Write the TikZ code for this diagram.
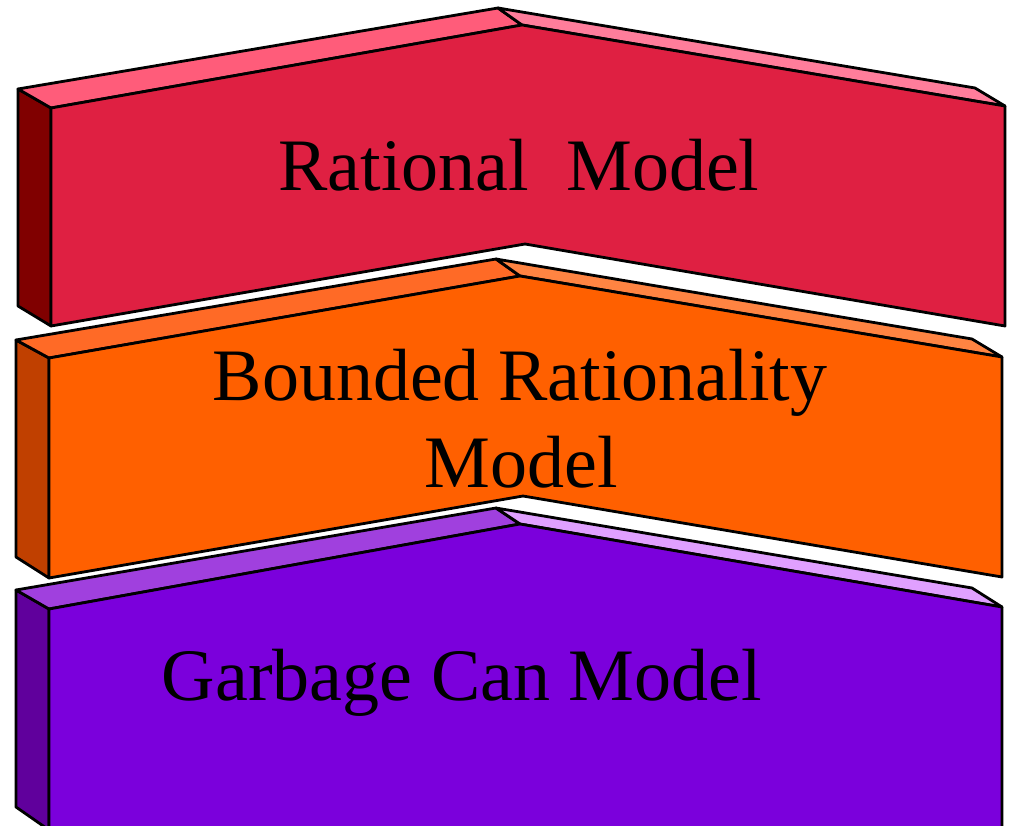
\documentclass[tikz,border=0pt]{standalone}
\usepackage{fontspec}
\setmainfont{Liberation Serif}
\definecolor{rfront}{HTML}{DF2042}
\definecolor{rtopl}{HTML}{FF5C7A}
\definecolor{rtopr}{HTML}{FF7D9B}
\definecolor{rside}{HTML}{800000}
\definecolor{ofront}{HTML}{FF6000}
\definecolor{otopl}{HTML}{FF6A26}
\definecolor{otopr}{HTML}{FF8442}
\definecolor{oside}{HTML}{C04000}
\definecolor{pfront}{HTML}{7B00DC}
\definecolor{ptopl}{HTML}{A040DE}
\definecolor{ptopr}{HTML}{E0A0FF}
\definecolor{pside}{HTML}{60009C}
\tikzset{face/.style={draw=black,line width=2.8pt,line join=round},
  lbl/.style={anchor=base,inner sep=0pt,font=\fontsize{74}{87}\selectfont,text=black}}
\begin{document}
\begin{tikzpicture}[x=1pt,y=-1pt]
\useasboundingbox (0,0) rectangle (1011,826);
\clip (0,0) rectangle (1011,826);
% Block 1
\fill[white] (0,0) rectangle (1011,826);
\draw[face,fill=rside] (18,89) -- (51,108) -- (51,326) -- (18,306) -- cycle;
\draw[face,fill=rtopl] (18,89) -- (498,8) -- (522,25) -- (51,108) -- cycle;
\draw[face,fill=rtopr] (498,8) -- (975,88) -- (1005,106) -- (522,25) -- cycle;
\draw[face,fill=rfront] (51,108) -- (522,25) -- (1005,106) -- (1005,326) -- (525,244) -- (51,326) -- cycle;
% Block 2
\draw[face,fill=oside] (16,340) -- (49,358) -- (49,578) -- (16,557) -- cycle;
\draw[face,fill=otopl] (16,340) -- (496,259) -- (520,276) -- (49,358) -- cycle;
\draw[face,fill=otopr] (496,259) -- (972,339) -- (1002,357) -- (520,276) -- cycle;
\draw[face,fill=ofront] (49,358) -- (520,276) -- (1002,357) -- (1002,577) -- (523,496) -- (49,578) -- cycle;
% Block 3
\draw[face,fill=pside] (16,590) -- (49,609) -- (49,830) -- (16,807) -- cycle;
\draw[face,fill=ptopl] (16,590) -- (496,508) -- (520,524) -- (49,609) -- cycle;
\draw[face,fill=ptopr] (496,508) -- (972,588) -- (1002,607) -- (520,524) -- cycle;
\draw[face,fill=pfront] (49,609) -- (520,524) -- (1002,607) -- (1002,840) -- (49,840) -- cycle;
% Labels
\node[lbl] (t1) at (519,191) {Rational\ \ Model};
\node[lbl] (t2) at (520,400) {Bounded Rationality};
\node[lbl] (t3) at (521,487) {Model};
\node[lbl] (t4) at (462,700) {Garbage Can Model};
\end{tikzpicture}
\end{document}
